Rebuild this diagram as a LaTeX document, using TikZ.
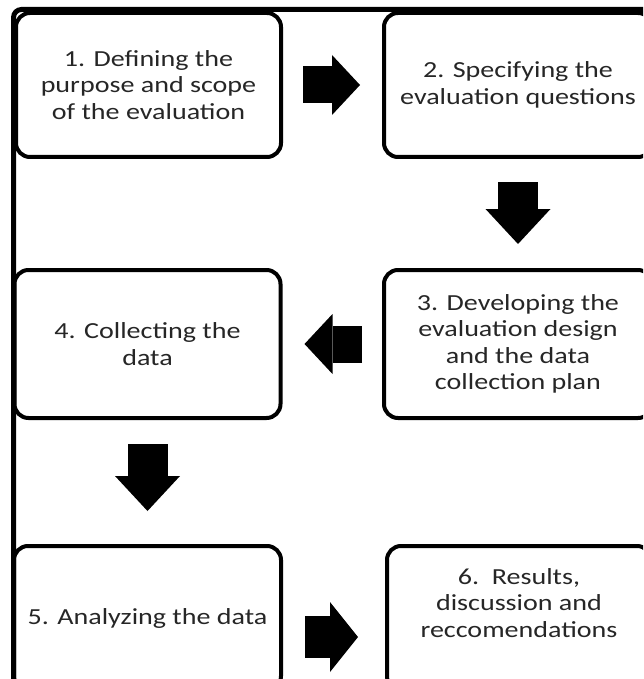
\documentclass[tikz,border=0pt]{standalone}
\usepackage{fontspec}
\setmainfont{Carlito}[FakeStretch=1.22]
\usetikzlibrary{arrows.meta}
\definecolor{stagetext}{HTML}{262626}
\tikzset{
  stage/.style={draw, line width=4pt, rounded corners=14pt, inner sep=0pt, outer sep=0pt,
    align=center, text=stagetext, font=\fontsize{23}{26.5}\selectfont},
  flowh/.style={line width=37pt, -{Triangle[width=60pt,length=28pt,line width=0pt]}},
  flowv/.style={line width=40pt, -{Triangle[width=65pt,length=35pt,line width=0pt]}},
}
\begin{document}
\begin{tikzpicture}[x=1pt,y=-1pt]
	\useasboundingbox (0,0) rectangle (643,679);
	\clip (0,0) rectangle (643,679);
	\draw[line width=5pt, rounded corners=8pt] (13.5,700) -- (13.5,9.5) -- (660,9.5);
	\path
		  (148.5, 85) node[stage, minimum width=265pt, minimum height=144pt] (define)   {1. Defining the\\purpose and scope\\of the evaluation}
		  (518,   85) node[stage, minimum width=268pt, minimum height=144pt] (specify)  {2. Specifying the\\evaluation questions}
		  (518,  344) node[stage, minimum width=268pt, minimum height=148pt] (design)   {3. Developing the\\evaluation design\\and the data\\collection plan}
		  (147.5,344) node[stage, minimum width=266pt, minimum height=148pt] (collect)  {4. Collecting the\\data}
		  (147.5,618) node[stage, minimum width=267pt, minimum height=144pt] (analyze)  {5. Analyzing the data}
		  (519,  618) node[stage, minimum width=264pt, minimum height=144pt] (results)  {6.\ \ Results,\\discussion and\\reccomendations\\[-4pt]\strut}
	;
	\draw[flowh, shorten <=22pt, shorten >=24pt] (define)  -- (specify);
	\draw[flowv, shorten <=25pt, shorten >=26pt] (specify) -- (design);
	\draw[flowh, shorten <=22pt, shorten >=24pt] (design)  -- (collect);
	\draw[flowv, shorten <=26pt, shorten >=35pt] (collect) -- (analyze);
	\draw[flowh, line width=42pt, -{Triangle[width=70pt,length=28pt,line width=0pt]}, shorten <=24pt, shorten >=29pt]
		([yshift=-19pt]analyze.east) -- ([yshift=-19pt]results.west);
\end{tikzpicture}
\end{document}
